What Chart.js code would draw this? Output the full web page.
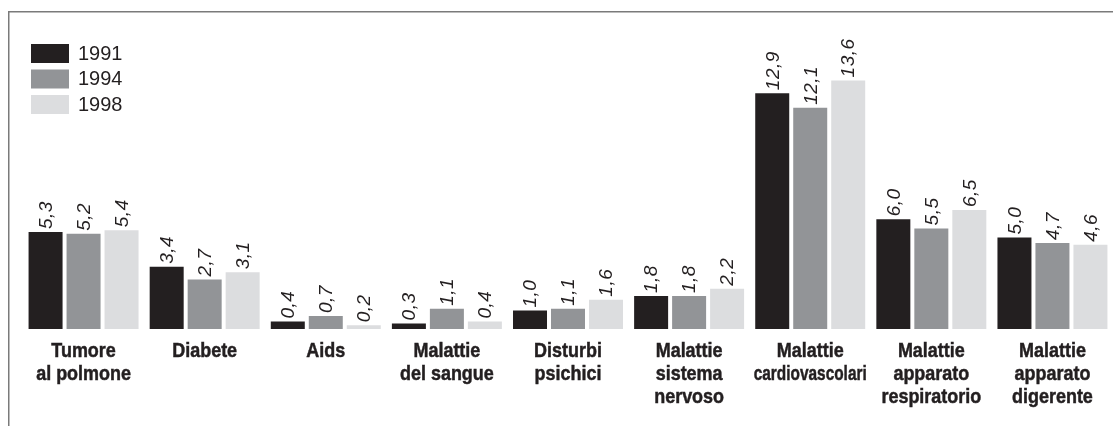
<!DOCTYPE html>
<html>
<head>
<meta charset="utf-8">
<script src="https://cdn.jsdelivr.net/npm/chart.js@4.4.0/dist/chart.umd.min.js"></script>
<style>
  html, body { margin: 0; padding: 0; background: #ffffff; }
  #wrap { position: relative; width: 1113px; height: 426px; }
</style>
</head>
<body>
<div id="wrap"><canvas id="c"></canvas></div>
<script>
const categories = [
  ["Tumore", "al polmone"],
  ["Diabete"],
  ["Aids"],
  ["Malattie", "del sangue"],
  ["Disturbi", "psichici"],
  ["Malattie", "sistema", "nervoso"],
  ["Malattie", "cardiovascolari"],
  ["Malattie", "apparato", "respiratorio"],
  ["Malattie", "apparato", "digerente"]
];
const seriesNames = ["1991", "1994", "1998"];
const values1991 = [5.3, 3.4, 0.4, 0.3, 1.0, 1.8, 12.9, 6.0, 5.0];
const values1994 = [5.2, 2.7, 0.7, 1.1, 1.1, 1.8, 12.1, 5.5, 4.7];
const values1998 = [5.4, 3.1, 0.2, 0.4, 1.6, 2.2, 13.6, 6.5, 4.6];
const seriesColors = ["#231f20", "#929497", "#dcdddf"];

const textColor = "#231f20";

const framePlugin = {
  id: "frame",
  beforeDraw(chart) {
    const ctx = chart.ctx;
    ctx.save();
    ctx.fillStyle = "#ffffff";
    ctx.fillRect(0, 0, chart.width, chart.height);
    ctx.strokeStyle = "#7a7a7a";
    ctx.lineWidth = 1.5;
    ctx.beginPath();
    ctx.moveTo(chart.width, 11.75);
    ctx.lineTo(8.75, 11.75);
    ctx.lineTo(8.75, chart.height);
    ctx.stroke();
    ctx.restore();
  }
};

const legendPlugin = {
  id: "customLegend",
  afterDraw(chart) {
    const ctx = chart.ctx;
    ctx.save();
    chart.data.datasets.forEach((ds, i) => {
      const y = 44 + i * 25.5;
      ctx.fillStyle = ds.backgroundColor;
      ctx.fillRect(31, y, 38, 19);
      ctx.fillStyle = textColor;
      ctx.font = "20px 'Liberation Sans', Arial, sans-serif";
      ctx.textAlign = "left";
      ctx.textBaseline = "middle";
      ctx.fillText(ds.label, 78, y + 10);
    });
    ctx.restore();
  }
};

// Category labels: condensed bold, drawn at the x scale's tick positions
const categoryLabelPlugin = {
  id: "categoryLabels",
  afterDraw(chart) {
    const ctx = chart.ctx;
    const xs = chart.scales.x;
    const base = chart.chartArea.bottom;
    ctx.save();
    ctx.fillStyle = textColor;
    ctx.strokeStyle = textColor;
    ctx.lineWidth = 0.5;
    ctx.font = "bold 21px 'Liberation Sans', Arial, sans-serif";
    ctx.textAlign = "center";
    ctx.textBaseline = "alphabetic";
    chart.data.labels.forEach((lines, i) => {
      const x = xs.getPixelForTick(i);
      lines.forEach((line, j) => {
        const w = Math.min(ctx.measureText(line).width * 0.855, 113);
        const y = base + 28.5 + j * 23;
        ctx.fillText(line, x, y, w);
        ctx.strokeText(line, x, y, w);
      });
    });
    ctx.restore();
  }
};

const valueLabelPlugin = {
  id: "valueLabels",
  afterDatasetsDraw(chart) {
    const ctx = chart.ctx;
    ctx.save();
    ctx.fillStyle = textColor;
    ctx.font = "italic 19px 'Liberation Sans', Arial, sans-serif";
    if ("letterSpacing" in ctx) ctx.letterSpacing = "0.5px";
    ctx.textAlign = "left";
    ctx.textBaseline = "middle";
    chart.data.datasets.forEach((ds, di) => {
      const meta = chart.getDatasetMeta(di);
      meta.data.forEach((bar, i) => {
        const txt = ds.data[i].toFixed(1).replace(".", ",");
        ctx.save();
        ctx.translate(bar.x + 1, bar.y - 3);
        ctx.rotate(-Math.PI / 2);
        ctx.fillText(txt, 0, 0);
        ctx.restore();
      });
    });
    ctx.restore();
  }
};

new Chart(document.getElementById("c"), {
  type: "bar",
  data: {
    labels: categories,
    datasets: [
      { label: seriesNames[0], data: values1991, backgroundColor: seriesColors[0] },
      { label: seriesNames[1], data: values1994, backgroundColor: seriesColors[1] },
      { label: seriesNames[2], data: values1998, backgroundColor: seriesColors[2] }
    ]
  },
  options: {
    responsive: true,
    maintainAspectRatio: false,
    animation: false,
    events: [],
    layout: { padding: { left: 23, right: 0, top: 0, bottom: 10 } },
    datasets: {
      bar: { categoryPercentage: 0.941, barPercentage: 0.895, borderWidth: 0 }
    },
    plugins: {
      legend: { display: false },
      tooltip: { enabled: false },
      title: { display: false }
    },
    scales: {
      x: {
        grid: { display: false, drawTicks: false },
        border: { display: false },
        ticks: {
          color: "rgba(0,0,0,0)",
          padding: 9,
          maxRotation: 0,
          autoSkip: false,
          font: { family: "'Liberation Sans', Arial, sans-serif", size: 18, weight: "bold", lineHeight: 1.28 }
        }
      },
      y: {
        display: false,
        min: 0,
        max: 18
      }
    }
  },
  plugins: [framePlugin, valueLabelPlugin, categoryLabelPlugin, legendPlugin]
});
</script>
</body>
</html>
